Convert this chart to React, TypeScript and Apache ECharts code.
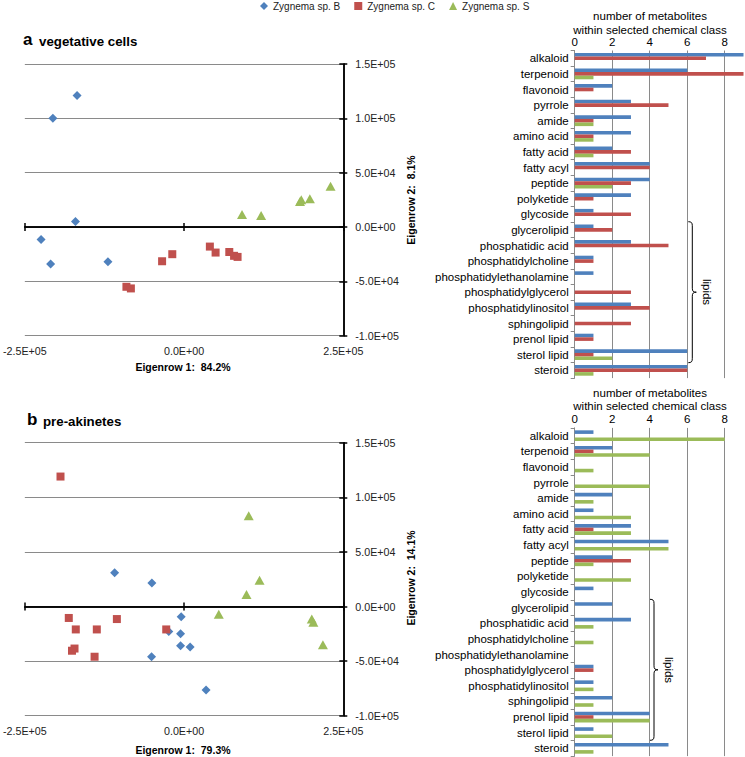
import React, { useEffect, useRef } from "react";
import * as echarts from "echarts";

// ---------- data ----------
const seriesNames = ["Zygnema sp. B", "Zygnema sp. C", "Zygnema sp. S"];
const colors = ["#4F81BD", "#C0504D", "#9BBB59"];

const categories = [
  "alkaloid", "terpenoid", "flavonoid", "pyrrole", "amide", "amino acid",
  "fatty acid", "fatty acyl", "peptide", "polyketide", "glycoside",
  "glycerolipid", "phosphatidic acid", "phosphatidylcholine",
  "phosphatidylethanolamine", "phosphatidylglycerol", "phosphatidylinositol",
  "sphingolipid", "prenol lipid", "sterol lipid", "steroid",
];

// a: vegetative cells – metabolite counts
const vegCountB = [9, 6, 2, 3, 3, 3, 2, 4, 4, 3, 1, 1, 3, 1, 1, 0, 3, 0, 1, 6, 6];
const vegCountC = [7, 9, 1, 5, 1, 1, 3, 4, 3, 1, 3, 2, 5, 1, 0, 3, 4, 3, 1, 1, 6];
const vegCountS = [0, 1, 0, 0, 1, 1, 1, 0, 2, 0, 0, 0, 0, 0, 0, 0, 0, 0, 0, 2, 1];

// b: pre-akinetes – metabolite counts
const akiCountB = [1, 2, 0, 0, 2, 1, 3, 5, 2, 0, 1, 2, 3, 0, 0, 1, 1, 2, 4, 1, 5];
const akiCountC = [0, 1, 0, 0, 0, 0, 1, 0, 3, 0, 0, 0, 0, 0, 0, 1, 0, 0, 1, 0, 0];
const akiCountS = [8, 4, 1, 4, 1, 3, 3, 5, 1, 3, 0, 0, 1, 1, 0, 0, 1, 1, 4, 2, 1];

// a: vegetative cells – PCA scores [Eigenrow 1, Eigenrow 2]
const vegPcaB = [[-168000, 121000], [-206000, 100000], [-170500, 5000], [-224500, -11500], [-209500, -34000], [-119500, -32000]];
const vegPcaC = [[-90500, -55000], [-83500, -56500], [-34500, -31500], [-18500, -25000], [40500, -18000], [49500, -23500], [71000, -23000], [78500, -26500], [84000, -27500]];
const vegPcaS = [[91000, 11500], [121000, 10500], [182000, 23500], [184000, 25000], [197500, 26000], [230000, 37500]];

// b: pre-akinetes – PCA scores
const akiPcaB = [[-109000, 31000], [-50500, 21500], [-4500, -9500], [-24000, -23000], [-5500, -25000], [-5500, -36000], [9500, -37000], [-51000, -46000], [34500, -76500]];
const akiPcaC = [[-194000, 119000], [-181000, -10500], [-170000, -21000], [-137000, -21000], [-105500, -11500], [-172000, -38500], [-176000, -40500], [-140500, -46000], [-28000, -21000]];
const akiPcaS = [[101500, 83000], [118500, 24000], [98000, 11000], [54500, -7000], [200500, -11500], [203000, -14500], [218000, -35000]];

const xTitles = ["Eigenrow 1:  84.2%", "Eigenrow 1:  79.3%"];
const yTitles = ["Eigenrow 2:  8.1%", "Eigenrow 2:  14.1%"];

// ---------- helpers ----------
const FONT = "'Liberation Sans', Arial, sans-serif";
const GRID_GRAY = "#8a8a8a";

function sci(v: number): string {
  if (v === 0) return "0.0E+00";
  const e = Math.floor(Math.log10(Math.abs(v)) + 1e-9);
  const m = v / Math.pow(10, e);
  return m.toFixed(1) + "E" + (e < 0 ? "-" : "+") + String(Math.abs(e)).padStart(2, "0");
}

const BRACE_D =
  "M0,0 C3,0 4,1 4,4 L4,66.5 C4,69.5 5,70.5 8,70.5 C5,70.5 4,71.5 4,74.5 L4,137 C4,140 3,141 0,141";

function scatterXAxes(gridIndex: number) {
  const base = {
    gridIndex, type: "value", min: -250000, max: 250000, interval: 250000,
    position: "bottom", splitLine: { show: false }, z: 3,
  };
  return [
    { ...base, axisLine: { show: true, onZero: true, lineStyle: { color: "#000", width: 1.5 } },
      axisTick: { show: true, inside: false, length: 4, lineStyle: { color: "#000", width: 1.5 } },
      axisLabel: { show: false } },
    { ...base, axisLine: { show: true, onZero: true, lineStyle: { color: "#000", width: 1.5 } },
      axisTick: { show: true, inside: true, length: 4, lineStyle: { color: "#000", width: 1.5 } },
      axisLabel: { show: false } },
    { ...base, axisLine: { show: false, onZero: false }, axisTick: { show: false },
      axisLabel: { show: true, margin: 10, formatter: sci, fontSize: 10.7, color: "#222", fontFamily: FONT,
        alignMinLabel: "center", alignMaxLabel: "center", hideOverlap: false } },
  ];
}

function scatterYAxes(gridIndex: number) {
  const base = {
    gridIndex, type: "value", min: -100000, max: 150000, interval: 50000, position: "right", z: 2,
  };
  return [
    { ...base, axisLine: { show: true, onZero: false, lineStyle: { color: "#000", width: 1.5 } },
      axisTick: { show: true, inside: false, length: 4, lineStyle: { color: "#000", width: 1.5 } },
      axisLabel: { show: true, margin: 12, formatter: sci, fontSize: 10.7, color: "#222", fontFamily: FONT },
      splitLine: { show: true, lineStyle: { color: GRID_GRAY, width: 1 } } },
    { ...base, axisLine: { show: true, onZero: false, lineStyle: { color: "#000", width: 1.5 } },
      axisTick: { show: true, inside: true, length: 4, lineStyle: { color: "#000", width: 1.5 } },
      axisLabel: { show: false }, splitLine: { show: false } },
  ];
}

function barXAxis(gridIndex: number) {
  return {
    gridIndex, type: "value", position: "top", min: 0, max: 9, interval: 2,
    axisLine: { show: false }, axisTick: { show: false },
    axisLabel: { fontSize: 11.5, color: "#000", margin: 3, fontFamily: FONT, showMaxLabel: false },
    splitLine: { show: true, showMaxLine: false, lineStyle: { color: GRID_GRAY, width: 1 } },
  };
}

function barYAxis(gridIndex: number) {
  return {
    gridIndex, type: "category", data: categories, inverse: true,
    axisLine: { show: true, lineStyle: { color: GRID_GRAY, width: 1 } },
    axisTick: { show: true, length: 4, lineStyle: { color: GRID_GRAY } },
    axisLabel: { fontSize: 11.5, color: "#000", margin: 6, interval: 0, fontFamily: FONT },
  };
}

const symbols = ["diamond", "rect", "triangle"];
const symbolSizes: any[] = [9, 8, [10, 9]];

function scatterSeries(xIdx: number, yIdx: number, sets: number[][][]) {
  return sets.map((d, i) => ({
    type: "scatter", name: seriesNames[i], xAxisIndex: xIdx, yAxisIndex: yIdx,
    data: d, symbol: symbols[i], symbolSize: symbolSizes[i],
    itemStyle: { color: colors[i], opacity: 1 }, z: 5,
  }));
}

function barSeries(xIdx: number, yIdx: number, sets: number[][]) {
  return sets.map((d, i) => ({
    type: "bar", name: seriesNames[i], xAxisIndex: xIdx, yAxisIndex: yIdx,
    data: d, barWidth: 3.6, barGap: "0%", itemStyle: { color: colors[i] },
  }));
}

function txt(text: string, x: number, y: number, fontSize: number, opts: any = {}) {
  return {
    type: "text", x, y, rotation: opts.rotation || 0, z: 10,
    style: {
      text, fontSize, fontFamily: FONT, fontWeight: opts.bold ? "bold" : "normal",
      fill: "#000", align: opts.align || "center", verticalAlign: "middle",
    },
  };
}

export default function App() {
  const ref = useRef<HTMLDivElement>(null);
  useEffect(() => {
    echarts.graphic.registerShape("brace", echarts.graphic.extendPath(BRACE_D, {}) as any);
    const chart = echarts.init(ref.current!, null, { renderer: "svg" });
    const option: any = {
      animation: false,
      backgroundColor: "#fff",
      textStyle: { fontFamily: FONT },
      legend: {
        left: 260, top: 1, padding: 0, itemWidth: 8, itemHeight: 8, itemGap: 14,
        textStyle: { fontSize: 10, color: "#222", fontFamily: FONT },
        data: seriesNames.map((n, i) => ({ name: n, icon: symbols[i] })),
        selectedMode: false,
      },
      grid: [
        { left: 22.7, top: 64, width: 320.6, height: 271.7 },
        { left: 574.7, top: 50.5, width: 168.8, height: 327.6 },
        { left: 22.7, top: 442.7, width: 320.6, height: 273 },
        { left: 574.7, top: 427.9, width: 168.8, height: 328.2 },
      ],
      xAxis: [
        ...scatterXAxes(0), barXAxis(1), ...scatterXAxes(2), barXAxis(3),
      ],
      yAxis: [
        ...scatterYAxes(0), barYAxis(1), ...scatterYAxes(2), barYAxis(3),
      ],
      series: [
        ...scatterSeries(0, 0, [vegPcaB, vegPcaC, vegPcaS]),
        ...barSeries(3, 2, [vegCountB, vegCountC, vegCountS]),
        ...scatterSeries(4, 3, [akiPcaB, akiPcaC, akiPcaS]),
        ...barSeries(7, 5, [akiCountB, akiCountC, akiCountS]),
      ],
      graphic: [
        txt("a", 23, 39, 17, { bold: true, align: "left" }),
        txt("vegetative cells", 39, 41, 13.3, { bold: true, align: "left" }),
        txt("b", 27, 419, 17, { bold: true, align: "left" }),
        txt("pre-akinetes", 43, 421, 13.3, { bold: true, align: "left" }),
        txt(xTitles[0], 183, 367, 10.5, { bold: true }),
        txt(xTitles[1], 183, 750, 10.5, { bold: true }),
        txt(yTitles[0], 411, 200, 10.5, { bold: true, rotation: Math.PI / 2 }),
        txt(yTitles[1], 411, 578, 10.5, { bold: true, rotation: Math.PI / 2 }),
        txt("number of metabolites", 650, 16, 11.5),
        txt("within selected chemical class", 650, 30, 11.5),
        txt("number of metabolites", 650, 393, 11.5),
        txt("within selected chemical class", 650, 406, 11.5),
        { type: "brace", x: 688.3, y: 221.7, z: 10, style: { stroke: "#000", fill: "none", lineWidth: 1 } },
        { type: "brace", x: 650, y: 599.3, z: 10, style: { stroke: "#000", fill: "none", lineWidth: 1 } },
        txt("lipids", 707, 292, 11.5, { rotation: -Math.PI / 2 }),
        txt("lipids", 669, 670, 11.5, { rotation: -Math.PI / 2 }),
      ],
    };
    chart.setOption(option);
    return () => chart.dispose();
  }, []);
  return (
    <div
      ref={ref}
      style={{ position: "fixed", left: 0, top: 0, width: 745, height: 757 }}
    />
  );
}
